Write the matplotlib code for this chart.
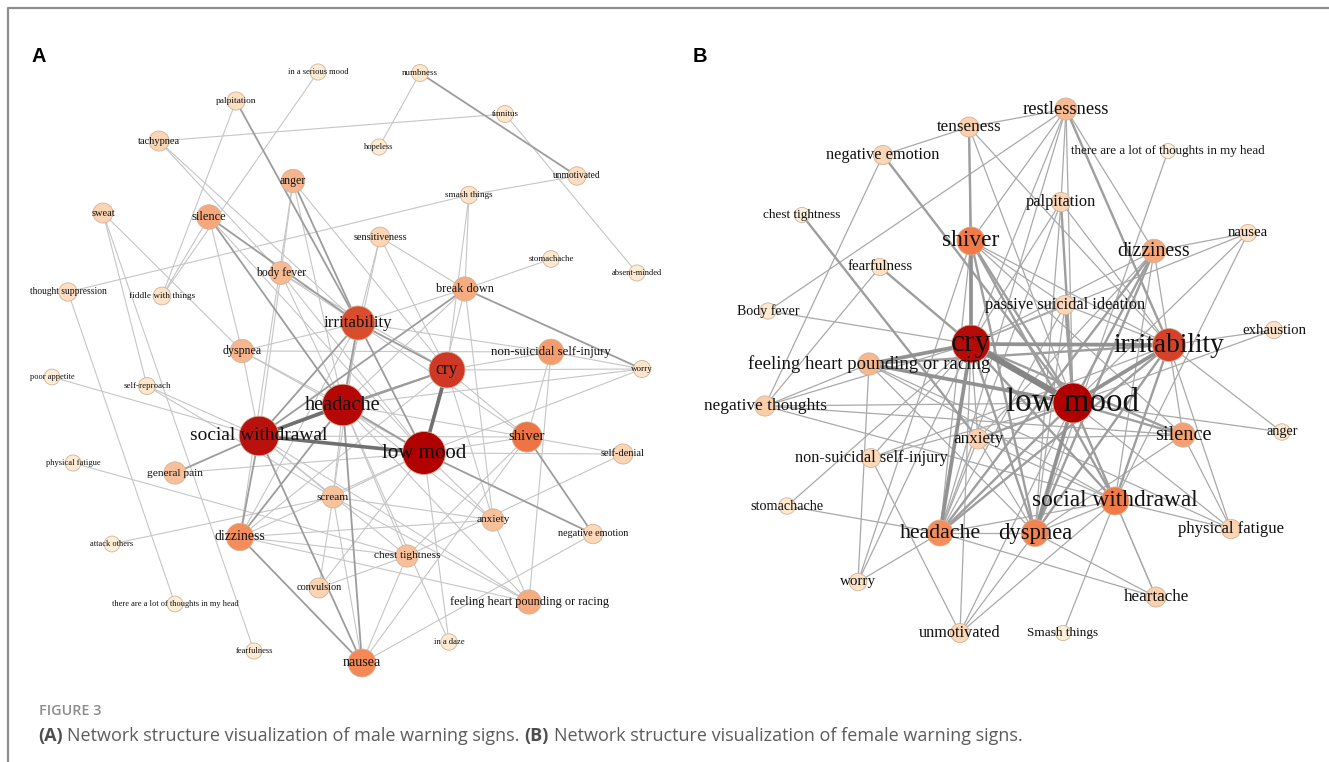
import matplotlib
matplotlib.use('Agg')
import matplotlib.pyplot as plt
from matplotlib.patches import Circle
from matplotlib.colors import LinearSegmentedColormap
from matplotlib.lines import Line2D

# ---------------- Panel A (male) ----------------
a_names = ["in a serious mood", "numbness", "palpitation", "tinnitus", "tachypnea", "hopeless",
           "unmotivated", "anger", "smash things", "sweat", "silence", "sensitiveness",
           "stomachache", "absent-minded", "body fever", "break down", "thought suppression",
           "fiddle with things", "irritability", "non-suicidal self-injury", "dyspnea", "cry",
           "worry", "poor appetite", "self-reproach", "headache", "social withdrawal", "shiver",
           "low mood", "physical fatigue", "general pain", "self-denial", "scream", "anxiety",
           "dizziness", "negative emotion", "attack others", "chest tightness", "convulsion",
           "feeling heart pounding or racing", "there are a lot of thoughts in my head",
           "in a daze", "fearfulness", "nausea"]
a_x = [318, 420, 236, 505, 159, 379, 577, 293, 469, 103, 209, 380, 551, 637, 281, 465, 68,
       162, 358, 551, 242, 447, 642, 52, 147, 343, 259, 527, 424, 73, 175, 623, 333, 493,
       240, 593, 112, 407, 319, 529, 175, 449, 254, 362]
a_y = [72, 73, 101, 114, 141, 147, 176, 181, 195, 213, 217, 237, 259, 273, 273, 289, 292,
       296, 323, 352, 351, 370, 369, 377, 386, 405, 436, 437, 453, 463, 473, 454, 497, 520,
       537, 534, 544, 556, 588, 602, 604, 642, 651, 663]
a_cent = [0.04, 0.07, 0.11, 0.07, 0.18, 0.04, 0.12, 0.30, 0.09, 0.18, 0.34, 0.17, 0.06, 0.04,
          0.28, 0.33, 0.12, 0.10, 0.68, 0.38, 0.30, 0.75, 0.08, 0.03, 0.07, 0.95, 0.88, 0.54,
          1.00, 0.04, 0.26, 0.18, 0.25, 0.26, 0.44, 0.16, 0.03, 0.26, 0.18, 0.33, 0.03, 0.05,
          0.04, 0.46]
a_edges = [
    ("in a serious mood", "fiddle with things", 1), ("palpitation", "fiddle with things", 1),
    ("palpitation", "irritability", 2), ("tachypnea", "tinnitus", 1), ("tachypnea", "body fever", 1),
    ("tachypnea", "irritability", 1), ("numbness", "hopeless", 1), ("numbness", "unmotivated", 2),
    ("tinnitus", "absent-minded", 1), ("unmotivated", "smash things", 1),
    ("thought suppression", "smash things", 1),
    ("thought suppression", "there are a lot of thoughts in my head", 1),
    ("smash things", "break down", 1), ("smash things", "cry", 1), ("stomachache", "break down", 1),
    ("sweat", "self-reproach", 1), ("sweat", "fearfulness", 1), ("sweat", "dyspnea", 1),
    ("silence", "fiddle with things", 1), ("silence", "dyspnea", 1), ("silence", "irritability", 2),
    ("silence", "headache", 2), ("silence", "low mood", 1), ("anger", "body fever", 1),
    ("anger", "irritability", 2), ("anger", "dizziness", 1), ("anger", "cry", 1),
    ("anger", "headache", 1), ("sensitiveness", "irritability", 1), ("sensitiveness", "break down", 1),
    ("sensitiveness", "cry", 1), ("sensitiveness", "headache", 1), ("body fever", "irritability", 1),
    ("body fever", "headache", 1), ("body fever", "cry", 1), ("body fever", "low mood", 1),
    ("body fever", "social withdrawal", 1), ("break down", "worry", 2),
    ("break down", "irritability", 1), ("break down", "headache", 1),
    ("break down", "social withdrawal", 2), ("break down", "anxiety", 1), ("break down", "low mood", 1),
    ("irritability", "non-suicidal self-injury", 1), ("irritability", "headache", 2),
    ("irritability", "social withdrawal", 2), ("irritability", "low mood", 2),
    ("irritability", "cry", 2), ("irritability", "dizziness", 1), ("irritability", "scream", 1),
    ("irritability", "shiver", 1), ("dyspnea", "irritability", 1), ("dyspnea", "headache", 1),
    ("dyspnea", "social withdrawal", 1), ("dyspnea", "low mood", 1),
    ("dyspnea", "non-suicidal self-injury", 1), ("cry", "low mood", 3), ("cry", "headache", 2),
    ("cry", "social withdrawal", 2), ("cry", "non-suicidal self-injury", 1), ("cry", "worry", 1),
    ("cry", "anxiety", 1), ("cry", "shiver", 1), ("cry", "dizziness", 1), ("worry", "headache", 1),
    ("worry", "low mood", 1), ("worry", "non-suicidal self-injury", 1),
    ("poor appetite", "social withdrawal", 1), ("self-reproach", "social withdrawal", 1),
    ("self-reproach", "scream", 1), ("headache", "social withdrawal", 3), ("headache", "low mood", 2),
    ("headache", "nausea", 2), ("headache", "shiver", 1), ("headache", "dizziness", 2),
    ("headache", "chest tightness", 1), ("headache", "anxiety", 1), ("headache", "scream", 1),
    ("social withdrawal", "low mood", 3), ("social withdrawal", "general pain", 2),
    ("social withdrawal", "dizziness", 2), ("social withdrawal", "nausea", 2),
    ("social withdrawal", "shiver", 1), ("social withdrawal", "scream", 1),
    ("social withdrawal", "chest tightness", 1),
    ("social withdrawal", "feeling heart pounding or racing", 1), ("shiver", "low mood", 1),
    ("shiver", "negative emotion", 2), ("shiver", "nausea", 1), ("shiver", "chest tightness", 1),
    ("shiver", "self-denial", 1), ("shiver", "non-suicidal self-injury", 1),
    ("low mood", "negative emotion", 2), ("low mood", "self-denial", 1), ("low mood", "in a daze", 1),
    ("low mood", "convulsion", 1), ("low mood", "general pain", 1), ("low mood", "dizziness", 1),
    ("low mood", "anxiety", 1), ("low mood", "scream", 1), ("physical fatigue", "chest tightness", 1),
    ("attack others", "scream", 1), ("dizziness", "nausea", 2), ("dizziness", "chest tightness", 1),
    ("dizziness", "anxiety", 1), ("dizziness", "feeling heart pounding or racing", 1),
    ("non-suicidal self-injury", "feeling heart pounding or racing", 1),
    ("self-denial", "chest tightness", 1), ("anxiety", "feeling heart pounding or racing", 1),
    ("anxiety", "scream", 1), ("feeling heart pounding or racing", "scream", 1),
    ("feeling heart pounding or racing", "headache", 1), ("nausea", "negative emotion", 1),
    ("nausea", "chest tightness", 1), ("nausea", "scream", 1), ("in a daze", "headache", 1),
    ("convulsion", "chest tightness", 1), ("convulsion", "scream", 1),
]

# ---------------- Panel B (female) ----------------
b_names = ["restlessness", "tenseness", "there are a lot of thoughts in my head", "negative emotion",
           "palpitation", "chest tightness", "nausea", "shiver", "dizziness", "fearfulness",
           "passive suicidal ideation", "Body fever", "exhaustion", "cry", "irritability",
           "feeling heart pounding or racing", "low mood", "negative thoughts", "anxiety", "silence",
           "anger", "non-suicidal self-injury", "social withdrawal", "stomachache", "headache",
           "dyspnea", "physical fatigue", "worry", "heartache", "unmotivated", "Smash things"]
b_x = [1066, 969, 1168, 883, 1061, 802, 1248, 971, 1154, 880, 1065, 768, 1274, 971, 1169, 869,
       1073, 765, 978, 1183, 1282, 871, 1115, 787, 940, 1035, 1231, 858, 1156, 960, 1063]
b_y = [109, 127, 151, 155, 202, 215, 233, 241, 251, 267, 305, 311, 330, 344, 345, 364, 403, 406,
       439, 435, 432, 458, 501, 506, 533, 533, 529, 582, 597, 633, 633]
b_cent = [0.28, 0.20, 0.00, 0.17, 0.17, 0.01, 0.09, 0.52, 0.34, 0.09, 0.17, 0.05, 0.09, 0.92,
          0.72, 0.29, 1.00, 0.21, 0.20, 0.37, 0.06, 0.16, 0.52, 0.06, 0.44, 0.48, 0.18, 0.10,
          0.20, 0.16, 0.01]
b_edges = [
    ("tenseness", "restlessness", 1), ("tenseness", "negative emotion", 1), ("tenseness", "shiver", 2),
    ("tenseness", "cry", 1), ("tenseness", "low mood", 1), ("tenseness", "irritability", 1),
    ("negative emotion", "negative thoughts", 1), ("negative emotion", "low mood", 2),
    ("chest tightness", "anxiety", 2), ("Body fever", "restlessness", 1), ("Body fever", "cry", 1),
    ("fearfulness", "cry", 2), ("fearfulness", "negative thoughts", 1),
    ("restlessness", "palpitation", 1), ("restlessness", "irritability", 2),
    ("restlessness", "dizziness", 1), ("restlessness", "shiver", 1), ("restlessness", "cry", 1),
    ("restlessness", "headache", 1), ("restlessness", "low mood", 1),
    ("there are a lot of thoughts in my head", "dyspnea", 1), ("palpitation", "low mood", 2),
    ("palpitation", "cry", 1), ("palpitation", "headache", 1), ("palpitation", "dyspnea", 1),
    ("palpitation", "irritability", 1), ("nausea", "dizziness", 1), ("nausea", "cry", 1),
    ("nausea", "low mood", 1), ("nausea", "social withdrawal", 1), ("dizziness", "irritability", 1),
    ("dizziness", "low mood", 2), ("dizziness", "cry", 1), ("dizziness", "headache", 2),
    ("dizziness", "dyspnea", 2), ("dizziness", "anxiety", 1), ("dizziness", "social withdrawal", 1),
    ("passive suicidal ideation", "cry", 1), ("passive suicidal ideation", "low mood", 2),
    ("passive suicidal ideation", "irritability", 1), ("passive suicidal ideation", "headache", 1),
    ("passive suicidal ideation", "dyspnea", 1), ("exhaustion", "irritability", 1),
    ("exhaustion", "low mood", 1), ("shiver", "cry", 3), ("shiver", "low mood", 2),
    ("shiver", "irritability", 1), ("shiver", "dyspnea", 2), ("shiver", "headache", 1),
    ("shiver", "social withdrawal", 2), ("shiver", "silence", 1),
    ("shiver", "passive suicidal ideation", 1), ("cry", "low mood", 4), ("cry", "irritability", 3),
    ("cry", "feeling heart pounding or racing", 3), ("cry", "headache", 3), ("cry", "dyspnea", 2),
    ("cry", "social withdrawal", 2), ("cry", "silence", 2), ("cry", "anxiety", 1),
    ("cry", "unmotivated", 1), ("cry", "non-suicidal self-injury", 1), ("cry", "stomachache", 1),
    ("cry", "worry", 1), ("cry", "negative thoughts", 1), ("irritability", "low mood", 3),
    ("irritability", "silence", 1), ("irritability", "social withdrawal", 2),
    ("irritability", "physical fatigue", 1), ("irritability", "dyspnea", 2),
    ("irritability", "anger", 1), ("irritability", "headache", 2),
    ("irritability", "feeling heart pounding or racing", 2), ("low mood", "silence", 2),
    ("low mood", "anger", 1), ("low mood", "social withdrawal", 2), ("low mood", "dyspnea", 3),
    ("low mood", "heartache", 1), ("low mood", "physical fatigue", 1), ("low mood", "headache", 2),
    ("low mood", "feeling heart pounding or racing", 3), ("low mood", "negative thoughts", 1),
    ("low mood", "anxiety", 2), ("low mood", "non-suicidal self-injury", 1),
    ("low mood", "unmotivated", 1), ("feeling heart pounding or racing", "negative thoughts", 1),
    ("feeling heart pounding or racing", "social withdrawal", 1),
    ("feeling heart pounding or racing", "dyspnea", 1),
    ("feeling heart pounding or racing", "physical fatigue", 1),
    ("feeling heart pounding or racing", "worry", 1), ("negative thoughts", "social withdrawal", 1),
    ("negative thoughts", "silence", 1), ("non-suicidal self-injury", "unmotivated", 1),
    ("non-suicidal self-injury", "irritability", 1), ("stomachache", "headache", 1),
    ("worry", "headache", 1), ("worry", "shiver", 1), ("headache", "dyspnea", 1),
    ("headache", "heartache", 1), ("headache", "social withdrawal", 1), ("headache", "anxiety", 1),
    ("unmotivated", "dyspnea", 1), ("unmotivated", "social withdrawal", 1), ("silence", "dyspnea", 1),
    ("silence", "physical fatigue", 1), ("social withdrawal", "heartache", 1),
    ("social withdrawal", "physical fatigue", 1), ("social withdrawal", "Smash things", 1),
    ("social withdrawal", "dyspnea", 1), ("dyspnea", "heartache", 1), ("dyspnea", "anxiety", 1),
    ("anxiety", "silence", 1), ("social withdrawal", "anxiety", 1),
]

caption_head = "FIGURE 3"
caption_parts = [("(A)", True), ("Network structure visualization of male warning signs.", False),
                 ("(B)", True), ("Network structure visualization of female warning signs.", False)]

# ---------------- drawing ----------------
W, H = 1329, 762
fig = plt.figure(figsize=(W / 100, H / 100), dpi=100)
ax = fig.add_axes([0, 0, 1, 1])
ax.set_xlim(0, W)
ax.set_ylim(H, 0)
ax.axis('off')

cmap = LinearSegmentedColormap.from_list("node", [
    (0.0, "#FCF1DC"), (0.1, "#FCE2C6"), (0.2, "#FAD0AE"), (0.3, "#F7B48C"),
    (0.4, "#F59664"), (0.52, "#F27B48"), (0.62, "#E35A32"), (0.72, "#D4432B"),
    (0.85, "#BC1612"), (1.0, "#B00000")])

PX2PT = 0.72


def draw_panel(names, xs, ys, cents, edges, r0, r1, f0, f1, estyles):
    pos = {n: (x, y) for n, x, y in zip(names, xs, ys)}
    for s, t, w in edges:
        col, lw = estyles[w]
        (x1, y1), (x2, y2) = pos[s], pos[t]
        ax.plot([x1, x2], [y1, y2], color=col, lw=lw, zorder=1 + w * 0.01,
                solid_capstyle='round')
    for n, x, y, c in zip(names, xs, ys, cents):
        r = r0 + r1 * c
        ax.add_patch(Circle((x, y), r, facecolor=cmap(c), edgecolor="#D2B49A",
                            lw=0.6, zorder=2))
        ax.text(x, y, n, ha='center', va='center', family='Liberation Serif',
                fontsize=(f0 + f1 * c) * PX2PT, color='#111111', zorder=3)


draw_panel(a_names, a_x, a_y, a_cent, a_edges, 7.5, 14.0, 8.0, 13.0,
           {1: ("#C6C6C6", 0.8), 2: ("#9C9C9C", 1.3), 3: ("#707070", 2.6)})
draw_panel(b_names, b_x, b_y, b_cent, b_edges, 7.5, 12.5, 13.0, 20.0,
           {1: ("#A9A9A9", 0.9), 2: ("#9E9E9E", 1.7), 3: ("#929292", 2.7),
            4: ("#858585", 4.5)})

# panel letters
ax.text(32, 62, "A", family='Liberation Sans', fontweight='bold', fontsize=20 * PX2PT,
        ha='left', va='baseline', color='black')
ax.text(693, 62, "B", family='Liberation Sans', fontweight='bold', fontsize=20 * PX2PT,
        ha='left', va='baseline', color='black')

# frame
ax.add_line(Line2D([8, 8, W], [H, 8, 8], color="#8E8E8E", lw=1.6, zorder=5))

# caption
ax.text(39, 715, caption_head, family='Open Sans', fontweight='semibold', fontsize=14.4 * PX2PT,
        color='#8C8C8C', ha='left', va='baseline')
fig.canvas.draw()
renderer = fig.canvas.get_renderer()
xcur = 38
cap_px = 18.0
for txt, bold in caption_parts:
    t = ax.text(xcur, 741, txt, family='Open Sans', fontweight='bold' if bold else 'normal',
                fontsize=cap_px * PX2PT, color='#4E4E4E' if bold else '#5C5C5C',
                ha='left', va='baseline')
    bb = t.get_window_extent(renderer)
    xcur += bb.width + 0.26 * cap_px

fig.savefig("out.png", dpi=100)
